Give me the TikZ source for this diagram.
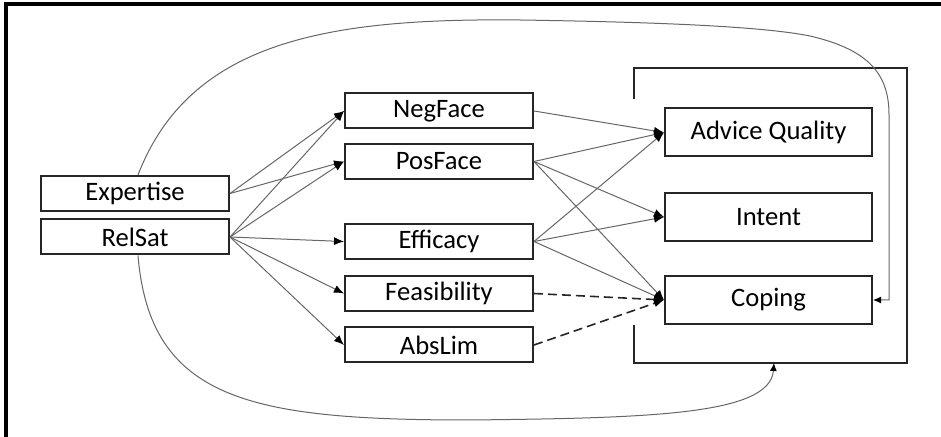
\documentclass[tikz,border=0pt]{standalone}
\usepackage{fontspec}
\setmainfont{Carlito}
\usetikzlibrary{arrows.meta}

\begin{document}
\begin{tikzpicture}[x=0.5pt,y=0.5pt,yscale=-1,xscale=1,
	varbox/.style={draw=black!85,line width=1pt,minimum width=94pt,minimum height=17.5pt,inner sep=0pt,font=\fontsize{13.3}{16}\selectfont},
	outbox/.style={varbox,minimum width=103.5pt,minimum height=24pt},
	path/.style={draw=black!60,line width=0.5pt,-{Latex[length=5pt,width=4pt,black]}},
	weakpath/.style={path,draw=black!85,line width=0.8pt,dash pattern=on 4.5pt off 2.5pt}]
	\useasboundingbox (0,0) rectangle (941,437);

	%Shape: Frame
	\draw [line width=1.6pt] (6,437) -- (6,4) -- (941,4) ;
	%Shape: Bracket round the outcomes
	\draw [line width=1pt,draw=black!85] (634,99) -- (634,68) -- (907,68) -- (907,363) -- (634,363) -- (634,325) ;
	\coordinate (bracketbottom) at (774,363);

	% Predictors
	\node [varbox] (expertise) at (135,193.5) {Expertise};
	\node [varbox] (relsat) at (135,237) {RelSat};
	% Mediators
	\node [varbox] (negface) at (439,111) {NegFace};
	\node [varbox] (posface) at (439,161.5) {PosFace};
	\node [varbox] (efficacy) at (439,241.5) {Efficacy};
	\node [varbox] (feasibility) at (439,293.5) {Feasibility};
	\node [varbox] (abslim) at (439,345) {AbsLim};
	% Outcomes
	\node [outbox] (advice) at (768.5,132.5) {Advice Quality};
	\node [outbox] (intent) at (768.5,217) {Intent};
	\node [outbox] (coping) at (768.5,300) {Coping};

	% Predictors to mediators
	\draw [path] (expertise.east) -- (negface.west);
	\draw [path] (expertise.east) -- (posface.west);
	\foreach \m in {negface,posface,efficacy,feasibility,abslim}
		\draw [path] (relsat.east) -- (\m.west);

	% Mediators to outcomes
	\draw [path] (negface.east) -- (advice.west);
	\foreach \m in {posface,efficacy}{
		\draw [path] (\m.east) -- (advice.west);
		\draw [path] (\m.east) -- (intent.west);
		\draw [path] (\m.east) -- (coping.west);
	}
	\draw [weakpath] (feasibility.east) -- (coping.west);
	\draw [weakpath] (abslim.east) -- (coping.west);

	% Direct paths
	\draw [path,-{Latex[length=4pt,width=3.5pt,black]}] (expertise.north) ++(3,0) .. controls (190,40) and (330,18) .. (520,20) .. controls (650,22) and (760,26) .. (810,36) .. controls (870,50) and (889,75) .. (889,115) -- (889,300) -- (coping.east);
	\draw [path,-{Latex[length=4pt,width=3.5pt,black]}] (relsat.south) ++(3,0) .. controls (150,400) and (250,420) .. (470,420) .. controls (650,418) and (770,415) .. (bracketbottom);
\end{tikzpicture}
\end{document}
